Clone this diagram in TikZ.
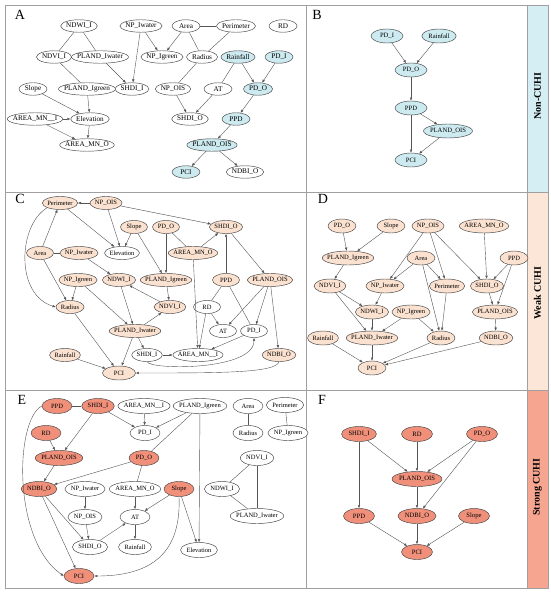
\documentclass[tikz,border=0pt]{standalone}
\usepackage{fontspec}
\setmainfont{Liberation Serif}
\usetikzlibrary{arrows.meta,shapes.geometric}
\definecolor{cyN}{HTML}{CDEAF0}
\definecolor{cyS}{HTML}{D5EEF3}
\definecolor{peN}{HTML}{FBE1CF}
\definecolor{peS}{HTML}{FCE6D7}
\definecolor{saN}{HTML}{F0907A}
\definecolor{saS}{HTML}{F6A690}
\definecolor{frm}{HTML}{A0A0A0}
\definecolor{edg}{HTML}{555555}
\newlength\gtw
\newsavebox\gbox
\def\nfs{6.5}\def\npad{10pt}\def\nmin{27pt}\def\nht{13pt}
\newcommand\gfont{\fontsize{\nfs}{\nfs}\selectfont}
\newcommand\gnode[5][]{%
  \pgfinterruptpicture\global\setbox\gbox=\hbox{\gfont #5}\endpgfinterruptpicture
  \gtw=\wd\gbox
  \pgfmathsetlengthmacro\gw{max(\gtw+\npad,\nmin)}%
  \node[nd,minimum width=\gw,minimum height=\nht,#1] (#2) at (#3,#4) {\makebox[0pt]{#5}};}
\tikzset{
  nd/.style={ellipse,draw=black!75,line width=0.45pt,inner sep=0pt,fill=white,font=\gfont},
  fa/.style={fill=cyN},
  fb/.style={fill=peN},
  fc/.style={fill=saN},
  ar/.style={draw=edg,line width=0.4pt,-{Latex[length=3.2pt,width=2.6pt]}},
  ln/.style={draw=edg,line width=0.4pt},
  frame/.style={draw=frm,line width=0.8pt},
  plab/.style={font=\fontsize{14}{14}\selectfont,inner sep=0pt},
  slab/.style={font=\fontsize{10}{10}\selectfont\bfseries,rotate=90,inner sep=0pt}
}
\begin{document}
\begin{tikzpicture}[x=1pt,y=-1pt]
\useasboundingbox (0,0) rectangle (550,594);
% strips
\fill[cyS] (527,5) rectangle (548,192);
\fill[peS] (527,192) rectangle (548,390);
\fill[saS] (527,390) rectangle (548,588);
\draw[frame] (5,5) rectangle (548,588);
\draw[frame] (306,5) -- (306,588);
\draw[frame] (527,5) -- (527,588);
\draw[frame] (5,192) -- (548,192);
\draw[frame] (5,390) -- (548,390);
\node[slab] (s1) at (537.5,96) {Non-CUHI};
\node[slab] (s2) at (537.5,293) {Weak CUHI};
\node[slab] (s3) at (537.5,487) {Strong CUHI};
\node[plab] (lA) at (20,15) {A};
\node[plab] (lB) at (317,15) {B};
\node[plab] (lC) at (20,199) {C};
\node[plab] (lD) at (323,199) {D};
\node[plab] (lE) at (22,400) {E};
\node[plab] (lF) at (322,400) {F};

% ---------------- Panel A
\def\nfs{7.2}\def\npad{11pt}\def\nmin{28pt}\def\nht{12.5pt}
\gnode{aNDWI}{79}{26}{NDWI\_I}
\gnode{aNPIw}{141}{26}{NP\_Iwater}
\gnode{aArea}{186}{26}{Area}
\gnode{aPer}{236}{26}{Perimeter}
\gnode{aRD}{283}{26}{RD}
\gnode{aNDVI}{54}{57}{NDVI\_I}
\gnode{aPLIw}{100}{57}{PLAND\_Iwater}
\gnode{aNPIg}{162}{57}{NP\_Igreen}
\gnode{aRad}{202}{57}{Radius}
\gnode[fa]{aRain}{238}{57}{Rainfall}
\gnode[fa]{aPDI}{279}{57}{PD\_I}
\gnode{aSlope}{33}{89}{Slope}
\gnode{aPLIg}{87}{89}{PLAND\_Igreen}
\gnode{aSHI}{132}{89}{SHDI\_I}
\gnode{aNPO}{173}{89}{NP\_OIS}
\gnode{aAT}{218}{89}{AT}
\gnode[fa]{aPDO}{258}{89}{PD\_O}
\gnode{aAMI}{35}{119}{AREA\_MN\_\_I}
\gnode{aElev}{90}{119}{Elevation}
\gnode{aSHO}{190}{119}{SHDI\_O}
\gnode[fa]{aPPD}{236}{119}{PPD}
\gnode{aAMO}{87}{145}{AREA\_MN\_O}
\gnode[fa]{aPLO}{212}{145}{PLAND\_OIS}
\gnode[fa]{aPCI}{186}{172}{PCI}
\gnode{aNDBI}{245}{172}{NDBI\_O}
\draw[ln] (aNDWI) -- (aNDVI);
\draw[ln] (aNDWI) -- (aPLIw);
\draw[ln] (aNDVI) -- (aPLIw);
\draw[ln] (aNDVI) -- (aPLIg);
\draw[ar] (aPLIw) -- (aSHI);
\draw[ar] (aNPIw) -- (aSHI);
\draw[ar] (aNPIw) -- (aNPIg);
\draw[ar] (aArea) -- (aNPIg);
\draw[ln] (aArea) -- (aPer);
\draw[ln] (aArea) -- (aRad);
\draw[ln] (aPer) -- (aRad);
\draw[ln] (aRad) -- (aNPO);
\draw[ar] (aRain) -- (aPDO);
\draw[ln] (aRain) -- (aAT);
\draw[ar] (aPDI) -- (aPDO);
\draw[ar] (aNPO) -- (aSHO);
\draw[ar] (aAT) -- (aSHO);
\draw[ar] (aPDO) -- (aPPD);
\draw[ar] (aPPD) -- (aPLO);
\draw[ar] (aPLO) -- (aPCI);
\draw[ar] (aPLO) -- (aNDBI);
\draw[ar] (aSlope) -- (aElev);
\draw[ar] (aPLIg) -- (aElev);
\draw[ar] (aAMI) -- (aElev);
\draw[ar] (aAMI) -- (aAMO);
\draw[ar] (aElev) -- (aAMO);

% ---------------- Panel B
\def\nfs{6.6}\def\npad{13pt}\def\nmin{32pt}\def\nht{14pt}
\gnode[fa]{bPDI}{387}{36}{PD\_I}
\gnode[fa]{bRain}{439}{36}{Rainfall}
\gnode[fa]{bPDO}{411}{70}{PD\_O}
\gnode[fa]{bPPD}{411}{108}{PPD}
\gnode[fa]{bPLO}{448}{131}{PLAND\_OIS}
\gnode[fa]{bPCI}{411}{160}{PCI}
\draw[ar] (bPDI) -- (bPDO);
\draw[ar] (bRain) -- (bPDO);
\draw[ar] (bPDO) -- (bPPD);
\draw[ar] (bPPD) -- (bPLO);
\draw[ar] (bPPD) -- (bPCI);
\draw[ar] (bPLO) -- (bPCI);

% ---------------- Panel C
\def\nfs{6.5}\def\npad{10pt}\def\nmin{27pt}\def\nht{13pt}
\gnode[fb]{cPer}{60}{203}{Perimeter}
\gnode[fb]{cNPO}{106}{203}{NP\_OIS}
\gnode[fb]{cSlope}{134}{227}{Slope}
\gnode[fb]{cPDO}{166}{227}{PD\_O}
\gnode[fb]{cSHO}{226}{227}{SHDI\_O}
\gnode[fb]{cArea}{40}{253}{Area}
\gnode[fb]{cNPIw}{79}{253}{NP\_Iwater}
\gnode{cElev}{122}{253}{Elevation}
\gnode[fb]{cAMO}{193}{253}{AREA\_MN\_O}
\gnode[fb]{cNPIg}{78}{280}{NP\_Igreen}
\gnode[fb]{cNDWI}{119}{280}{NDWI\_I}
\gnode[fb]{cPLIg}{166}{280}{PLAND\_Igreen}
\gnode[fb]{cPPD}{226}{280}{PPD}
\gnode[fb]{cPLO}{270}{280}{PLAND\_OIS}
\gnode[fb]{cRad}{70}{307}{Radius}
\gnode[fb]{cNDVI}{170}{307}{NDVI\_I}
\gnode{cRD}{207}{307}{RD}
\gnode[fb]{cPLIw}{135}{331}{PLAND\_Iwater}
\gnode{cAT}{223}{331}{AT}
\gnode{cPDI}{254}{331}{PD\_I}
\gnode[fb]{cRain}{65}{355}{Rainfall}
\gnode{cSHI}{147}{355}{SHDI\_I}
\gnode{cAMI}{198}{355}{AREA\_MN\_\_I}
\gnode[fb]{cNDBI}{279}{355}{NDBI\_O}
\gnode[fb,minimum width=33pt,minimum height=14pt]{cPCI}{119}{373}{PCI}
\draw[ar] (cNPO) -- (cPer);
\draw[ar] (cNPO) -- (cSHO);
\draw[ar] (cNPO) -- (cElev);
\draw[ar] (cPer) -- (cElev);
\draw[ar] (cSlope) -- (cElev);
\draw[ar] (cSlope) -- (cPLIg);
\draw[ar] (cPDO) -- (cPLIg);
\draw[ln] (cPDO) -- (cAMO);
\draw[ar] (cAMO) -- (cSHO);
\draw[ar] (cAMO) -- (cAMI);
\draw[ar] (cArea) -- (cPer);
\draw[ln] (cArea) -- (cNPIw);
\draw[ar] (cArea) -- (cRad);
\draw[ar] (cNPIw) -- (cNDWI);
\draw[ar] (cNPIg) -- (cRad);
\draw[ar] (cNPIg) -- (cPLIw);
\draw[ar] (cNDWI) -- (cPLIw);
\draw[ar] (cNDVI) -- (cNDWI);
\draw[ar] (cPLIg) -- (cNDVI);
\draw[ar] (cPLIw) -- (cNDVI);
\draw[ar] (cPLIw) -- (cSHI);
\draw[ar] (cPLIw) -- (cPCI);
\draw[ar] (cRad) -- (cPCI);
\draw[ar] (cRain) -- (cPCI);
\draw[ar] (cSHI) -- (cAMI);
\draw[ar] (cPPD) -- (cSHO);
\draw[ln] (cPPD) -- (cRD);
\draw[ln] (cPPD) -- (cPDI);
\draw[ar] (cSHO) -- (cPLO);
\draw[ar] (cPLO) -- (cAT);
\draw[ar] (cPLO) -- (cPDI);
\draw[ar] (cPLO) -- (cNDBI);
\draw[ar] (cRD) -- (cAT);
\draw[ar] (cRD) -- (cAMI);
\draw[ar] (cPDI) -- (cAMI);
\draw[ar] (cPer.200) .. controls (18,225) and (15,295) .. (cRad.west);
\draw[ar] (cSHI.south) .. controls (150,370) and (254,371) .. (cPDI.south);
\draw[ar] (cNDBI.south) .. controls (276,373) and (220,373) .. (cPCI.east);

% ---------------- Panel D
\def\nfs{6.5}\def\npad{10pt}\def\nmin{28pt}\def\nht{14pt}
\gnode[fb]{dPDO}{342}{226}{PD\_O}
\gnode[fb]{dSlope}{391}{226}{Slope}
\gnode[fb]{dNPO}{428}{226}{NP\_OIS}
\gnode[fb]{dAMO}{484}{226}{AREA\_MN\_O}
\gnode[fb]{dPLIg}{348}{258}{PLAND\_Igreen}
\gnode[fb]{dArea}{421}{258}{Area}
\gnode[fb]{dPPD}{514}{258}{PPD}
\gnode[fb]{dNDVI}{330}{286}{NDVI\_I}
\gnode[fb]{dNPIw}{385}{286}{NP\_Iwater}
\gnode[fb]{dPer}{447}{286}{Perimeter}
\gnode[fb]{dSHO}{487}{286}{SHDI\_O}
\gnode[fb]{dNDWI}{372}{312}{NDWI\_I}
\gnode[fb]{dNPIg}{411}{312}{NP\_Igreen}
\gnode[fb]{dPLO}{495}{312}{PLAND\_OIS}
\gnode[fb]{dRain}{323}{338}{Rainfall}
\gnode[fb]{dPLIw}{372}{338}{PLAND\_Iwater}
\gnode[fb]{dRad}{441}{338}{Radius}
\gnode[fb]{dNDBI}{496}{338}{NDBI\_O}
\gnode[fb]{dPCI}{372}{368}{PCI}
\draw[ar] (dPDO) -- (dPLIg);
\draw[ar] (dSlope) -- (dPLIg);
\draw[ar] (dPLIg) -- (dNDVI);
\draw[ar] (dNPO) -- (dNPIw);
\draw[ar] (dNPO) -- (dPer);
\draw[ar] (dNPO) -- (dSHO);
\draw[ar] (dArea) -- (dNPIw);
\draw[ar] (dArea) -- (dPer);
\draw[ar] (dArea) -- (dRad);
\draw[ar] (dAMO) -- (dSHO);
\draw[ar] (dPPD) -- (dSHO);
\draw[ar] (dPPD) -- (dPLO);
\draw[ar] (dNDVI) -- (dNDWI);
\draw[ar] (dNDVI) -- (dPLIw);
\draw[ar] (dNPIw) -- (dNDWI);
\draw[ar] (dPer) -- (dRad);
\draw[ar] (dSHO) -- (dPLO);
\draw[ar] (dNDWI) -- (dPLIw);
\draw[ar] (dNPIg) -- (dPLIw);
\draw[ar] (dNPIg) -- (dRad);
\draw[ar] (dPLO) -- (dNDBI);
\draw[ar] (dRain) -- (dPCI);
\draw[ar] (dPLIw) -- (dPCI);
\draw[ar] (dRad) -- (dPCI);
\draw[ar] (dNDBI) -- (dPCI);

% ---------------- Panel E
\def\nfs{6.5}\def\npad{12pt}\def\nmin{30pt}\def\nht{15pt}
\gnode[fc]{ePPD}{57}{406}{PPD}
\gnode[fc]{eSHI}{98}{406}{SHDI\_I}
\gnode{eAMI}{144}{406}{AREA\_MN\_\_I}
\gnode{ePLIg}{200}{406}{PLAND\_Igreen}
\gnode{eArea}{248}{406}{Area}
\gnode{ePer}{285}{405}{Perimeter}
\gnode[fc]{eRD}{46}{433}{RD}
\gnode{ePDI}{145}{433}{PD\_I}
\gnode{eRad}{248}{433}{Radius}
\gnode{eNPIg}{288}{433}{NP\_Igreen}
\gnode[fc]{ePLO}{59}{458}{PLAND\_OIS}
\gnode[fc]{ePDO}{144}{458}{PD\_O}
\gnode{eNDVI}{257}{458}{NDVI\_I}
\gnode[fc]{eNDBI}{39}{489}{NDBI\_O}
\gnode{eNPIw}{85}{489}{NP\_Iwater}
\gnode{eAMO}{135}{489}{AREA\_MN\_O}
\gnode[fc]{eSlope}{179}{489}{Slope}
\gnode{eNDWI}{222}{489}{NDWI\_I}
\gnode{eNPO}{85}{517}{NP\_OIS}
\gnode{eAT}{135}{517}{AT}
\gnode{ePLIw}{257}{516}{PLAND\_Iwater}
\gnode{eSHO}{90}{547}{SHDI\_O}
\gnode{eRain}{135}{547}{Rainfall}
\gnode{eElev}{199}{550}{Elevation}
\gnode[fc]{ePCI}{79}{576}{PCI}
\draw[ln] (ePPD) -- (eSHI);
\draw[ar] (ePPD.west) .. controls (15,420) and (12,540) .. (ePCI.west);
\draw[ar] (eSHI) -- (ePDI);
\draw[ar] (eSHI) -- (ePLO);
\draw[ar] (eAMI) -- (ePDI);
\draw[ar] (ePLIg) -- (ePDI);
\draw[ln] (ePLIg) -- (ePDO);
\draw[ar] (ePLIg) -- (eElev);
\draw[ln] (eArea) -- (eRad);
\draw[ln] (ePer) -- (eNPIg);
\draw[ar] (eRD) -- (ePLO);
\draw[ar] (ePLO) -- (eNDBI);
\draw[ar] (ePDO) -- (eNDBI);
\draw[ln] (ePDO) -- (eAMO);
\draw[ln] (eNDVI) -- (eNDWI);
\draw[ln] (eNDVI) -- (ePLIw);
\draw[ln] (eNDWI) -- (ePLIw);
\draw[ar] (eNPIw) -- (eNPO);
\draw[ar] (eNPO) -- (eSHO);
\draw[ar] (eAMO) -- (eAT);
\draw[ar] (eSlope) -- (eAT);
\draw[ar] (eSlope) -- (eElev);
\draw[ar] (eSlope.south) .. controls (181,545) and (160,576) .. (ePCI.east);
\draw[ar] (eAT) -- (eRain);
\draw[ar] (eSHO) -- (eAT);
\draw[ar] (eNDBI) -- (eSHO);
\draw[ar] (eNDBI) -- (ePCI);

% ---------------- Panel F
\def\nfs{6.6}\def\npad{14pt}\def\nmin{31pt}\def\nht{15pt}
\gnode[fc]{fSHI}{359}{434}{SHDI\_I}
\gnode[fc]{fRD}{417}{434}{RD}
\gnode[fc]{fPDO}{482}{434}{PD\_O}
\gnode[fc]{fPLO}{417}{479}{PLAND\_OIS}
\gnode[fc]{fPPD}{359}{516}{PPD}
\gnode[fc]{fNDBI}{417}{516}{NDBI\_O}
\gnode[fc]{fSlope}{474}{516}{Slope}
\gnode[fc]{fPCI}{417}{552}{PCI}
\draw[ar] (fSHI) -- (fPLO);
\draw[ar] (fSHI) -- (fPPD);
\draw[ar] (fRD) -- (fPLO);
\draw[ar] (fPDO) -- (fPLO);
\draw[ar] (fPDO) -- (fNDBI);
\draw[ar] (fPLO) -- (fNDBI);
\draw[ar] (fPPD) -- (fPCI);
\draw[ar] (fNDBI) -- (fPCI);
\draw[ar] (fSlope) -- (fPCI);
\end{tikzpicture}
\end{document}
